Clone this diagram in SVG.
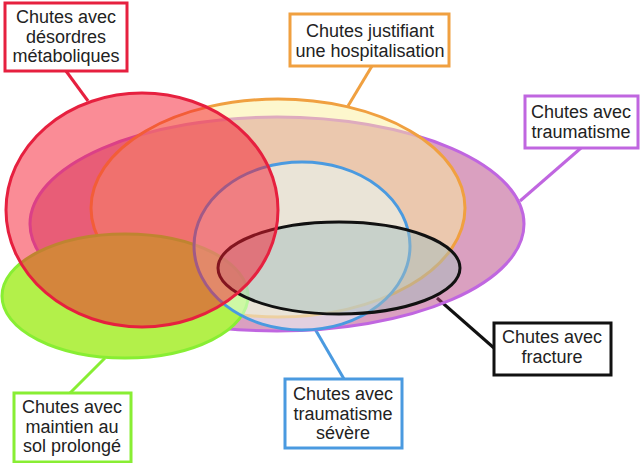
<svg xmlns="http://www.w3.org/2000/svg" width="640" height="463" viewBox="0 0 640 463">
<style>
.lbl{font-family:"Liberation Sans",Arial,sans-serif;font-size:18px;fill:#222;text-anchor:middle}
.box{fill:#fff;stroke-width:3}
.set{stroke-width:3}
.ln{stroke-width:3;fill:none}
</style>
<rect width="640" height="463" fill="#fff"/>
<g id="connectors">
<line class="ln" x1="66" y1="71" x2="88" y2="101" stroke="#e6203f"/>
<line class="ln" x1="372" y1="66" x2="348" y2="106" stroke="#f0a040"/>
<line class="ln" x1="581" y1="148" x2="520" y2="201" stroke="#c066e0"/>
<line class="ln" x1="437" y1="298" x2="494" y2="348" stroke="#111"/>
<line class="ln" x1="315" y1="329" x2="344" y2="379" stroke="#4a9ae0"/>
<line class="ln" x1="105" y1="358" x2="70" y2="393" stroke="#88ee33"/>
</g>
<g id="traumatisme">
<ellipse class="set" cx="277" cy="224" rx="247" ry="107" fill="#b54181" fill-opacity="0.5" stroke="#c066e0"/>
<rect class="box" x="525" y="96" width="113" height="52" stroke="#c066e0"/>
<text class="lbl" x="581" y="118">Chutes avec</text>
<text class="lbl" x="581" y="138">traumatisme</text>
</g>
<g id="hospitalisation">
<ellipse class="set" cx="278" cy="208" rx="187" ry="109" fill="#fbf09b" fill-opacity="0.5" stroke="#f0a040"/>
<rect class="box" x="290" y="14" width="159" height="52" stroke="#f0a040"/>
<text class="lbl" x="370" y="37">Chutes justifiant</text>
<text class="lbl" x="370" y="57">une hospitalisation</text>
</g>
<g id="sol-prolonge">
<ellipse class="set" cx="125" cy="296" rx="123" ry="62" fill="#b3f04a" stroke="#88ee33"/>
<rect class="box" x="14" y="393" width="117" height="69" stroke="#88ee33"/>
<text class="lbl" x="72" y="413">Chutes avec</text>
<text class="lbl" x="72" y="433">maintien au</text>
<text class="lbl" x="72" y="452">sol prolongé</text>
</g>
<g id="traumatisme-severe">
<ellipse class="set" cx="302" cy="246" rx="108" ry="84" fill="#eaffff" fill-opacity="0.5" stroke="#4a9ae0"/>
<rect class="box" x="285" y="379" width="117" height="69" stroke="#4a9ae0"/>
<text class="lbl" x="343" y="400">Chutes avec</text>
<text class="lbl" x="343" y="420">traumatisme</text>
<text class="lbl" x="343" y="439">sévère</text>
</g>
<g id="fracture">
<ellipse class="set" cx="339" cy="268" rx="121" ry="46" fill="#a5bdbe" fill-opacity="0.5" stroke="#111"/>
<rect class="box" x="494" y="323" width="117" height="52" stroke="#111"/>
<text class="lbl" x="552" y="343">Chutes avec</text>
<text class="lbl" x="552" y="363">fracture</text>
</g>
<g id="metaboliques">
<ellipse class="set" cx="142" cy="210" rx="136" ry="117" fill="#f5192d" fill-opacity="0.5" stroke="#e6203f"/>
<rect class="box" x="5" y="3" width="122" height="68" stroke="#e6203f"/>
<text class="lbl" x="66" y="23">Chutes avec</text>
<text class="lbl" x="66" y="43">désordres</text>
<text class="lbl" x="66" y="62">métaboliques</text>
</g>
</svg>
